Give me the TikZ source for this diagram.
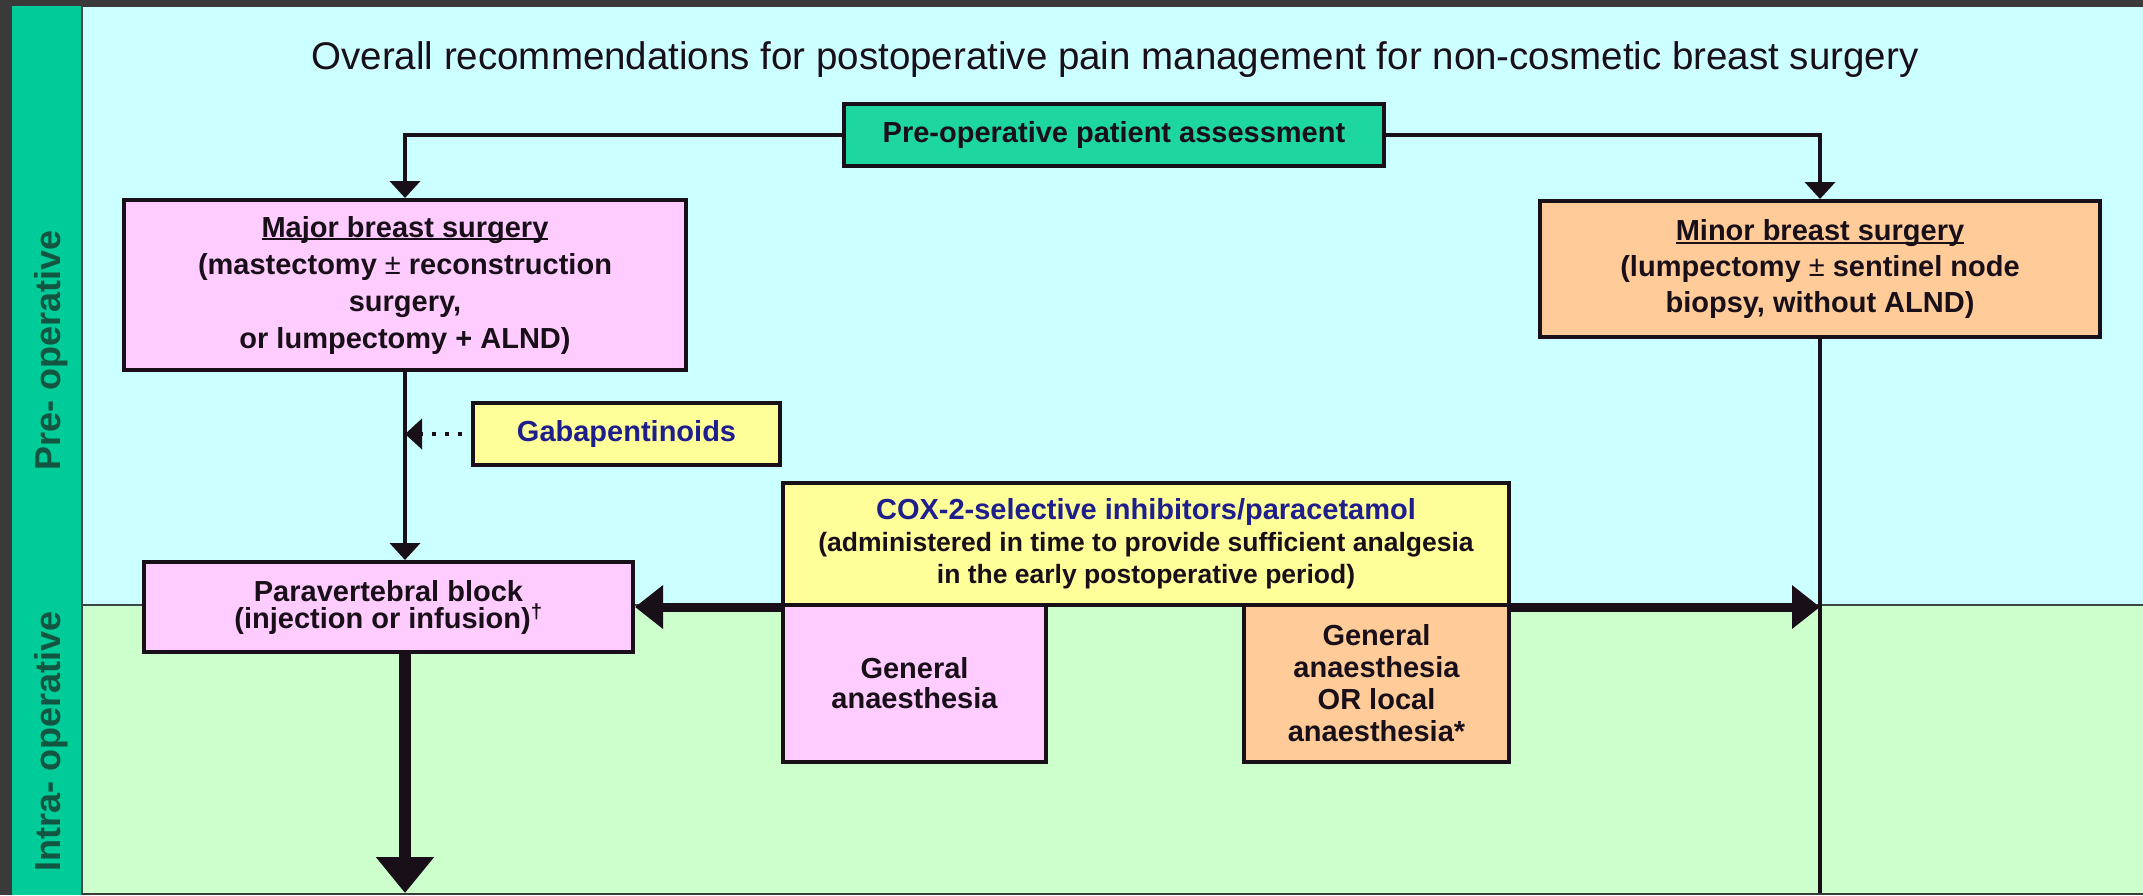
\documentclass[tikz,border=0pt]{standalone}
\usepackage{fontspec}
\setmainfont{Liberation Sans}
\usetikzlibrary{arrows.meta}

\definecolor{framec}{RGB}{58,58,58}
\definecolor{edgec}{RGB}{60,70,70}
\definecolor{stripc}{RGB}{0,204,153}
\definecolor{assessc}{RGB}{30,214,160}
\definecolor{prebg}{RGB}{204,255,255}
\definecolor{intrabg}{RGB}{204,255,204}
\definecolor{pinkc}{RGB}{255,204,255}
\definecolor{orangec}{RGB}{255,204,153}
\definecolor{yellowc}{RGB}{255,255,153}
\definecolor{drugc}{RGB}{30,30,140}
\definecolor{inkc}{RGB}{25,15,25}
\definecolor{phasec}{RGB}{20,85,65}

% font sizes for the chart
\newcommand\fcTitle{\fontsize{38.5}{46}\selectfont}
\newcommand\fcPhase{\fontsize{36}{40}\selectfont\bfseries}
\newcommand\fcBody[1]{\fontsize{29}{#1}\selectfont\bfseries}
% underline that sits just under the baseline
\newcommand\fcUnder[1]{\setbox0=\hbox{#1}\rlap{\rule[-3pt]{\wd0}{2pt}}\box0}
% light plus-minus sign
\newcommand\fcPm{{\mdseries ±}}

\begin{document}
\begin{tikzpicture}[x=1pt,y=-1pt,
  box/.style={draw=inkc, line width=4pt, inner sep=0pt, align=center, text=inkc},
  phase/.style={rotate=90, anchor=base, font=\fcPhase, text=phasec},
  link/.style={draw=inkc, line width=4pt},
  headsmall/.style={-{Triangle[length=17pt,width=30pt]}},
  fatlink/.style={draw=inkc, line width=9pt, -{Triangle[length=28pt,width=42pt]}},
  fattest/.style={draw=inkc, line width=12pt, -{Triangle[length=36pt,width=56pt]}}]

\useasboundingbox (0,0) rectangle (2143,895);

% frame, phase strip and the two phase bands
\fill[framec] (0,0) rectangle (2143,895);
\fill[stripc] (12,6) rectangle (82,895);
\fill[prebg] (83,7) rectangle (2143,605);
\fill[intrabg] (83,605) rectangle (2143,893);
\draw[line width=2pt, draw=edgec] (82,6) -- (82,895);
\draw[line width=1.5pt, draw=edgec] (83,605) -- (2143,605);
\coordinate (floor) at (0,893);

% heading and phase labels
\node[font=\fcTitle, text=inkc, anchor=base] (title) at (1115,69)
  {Overall recommendations for postoperative pain management for non-cosmetic breast surgery};
\node[phase] (prelabel) at (60,350) {Pre- operative};
\node[phase] (intralabel) at (60,741) {Intra- operative};

% boxes
\node[box, fill=assessc, font=\fcBody{36}, minimum width=540pt, minimum height=62pt]
  (assess) at (1114,135) {Pre-operative patient assessment};
\node[box, fill=pinkc, font=\fcBody{37}, minimum width=562pt, minimum height=170pt]
  (major) at (405,285)
  {\fcUnder{Major breast surgery}\\(mastectomy \fcPm{} reconstruction\\surgery,\\or lumpectomy + ALND)};
\node[box, fill=orangec, font=\fcBody{36}, minimum width=560pt, minimum height=136pt]
  (minor) at (1820,269)
  {\fcUnder{Minor breast surgery}\\(lumpectomy \fcPm{} sentinel node\\biopsy, without ALND)};
\node[box, fill=yellowc, font=\fcBody{36}, text=drugc, minimum width=307pt, minimum height=62pt]
  (gaba) at (626.5,434) {Gabapentinoids};
\node[box, fill=pinkc, font=\fcBody{27}, minimum width=489pt, minimum height=90pt]
  (para) at (388.5,607) {Paravertebral block\\(injection or infusion)\textsuperscript{†}};
\node[box, fill=yellowc, font={\fontsize{26.5}{32}\selectfont\bfseries}, minimum width=726pt, minimum height=122pt]
  (cox) at (1146,544)
  {{\fontsize{29}{32}\selectfont\textcolor{drugc}{COX-2-selective inhibitors/paracetamol}}\\
   (administered in time to provide sufficient analgesia\\
   in the early postoperative period)};
\node[box, fill=pinkc, font=\fcBody{30}, minimum width=263pt, minimum height=157pt]
  (ga) at (914.5,683.5) {General\\anaesthesia};
\node[box, fill=orangec, font=\fcBody{32}, minimum width=265pt, minimum height=157pt]
  (galocal) at (1376.5,683.5) {General\\anaesthesia\\OR local\\anaesthesia*};

% connectors
\draw[link, headsmall] (assess.west) -| (major.north);
\draw[link, headsmall] (assess.east) -| (minor.north);
\draw[link, headsmall] (major.south) -- (major.south |- para.north);
\draw[link, headsmall, dash pattern=on 4pt off 9pt, dash phase=4pt]
  (gaba.west) -- (major.south |- gaba.west);
\draw[fatlink] (cox.south west) -- (para.east |- cox.south west);
\draw[fatlink] (cox.south east) -- (minor.south |- cox.south east);
\draw[link] (minor.south) -- (minor.south |- floor);
\draw[fattest] (major.south |- para.south) -- (major.south |- floor);
\end{tikzpicture}
\end{document}
